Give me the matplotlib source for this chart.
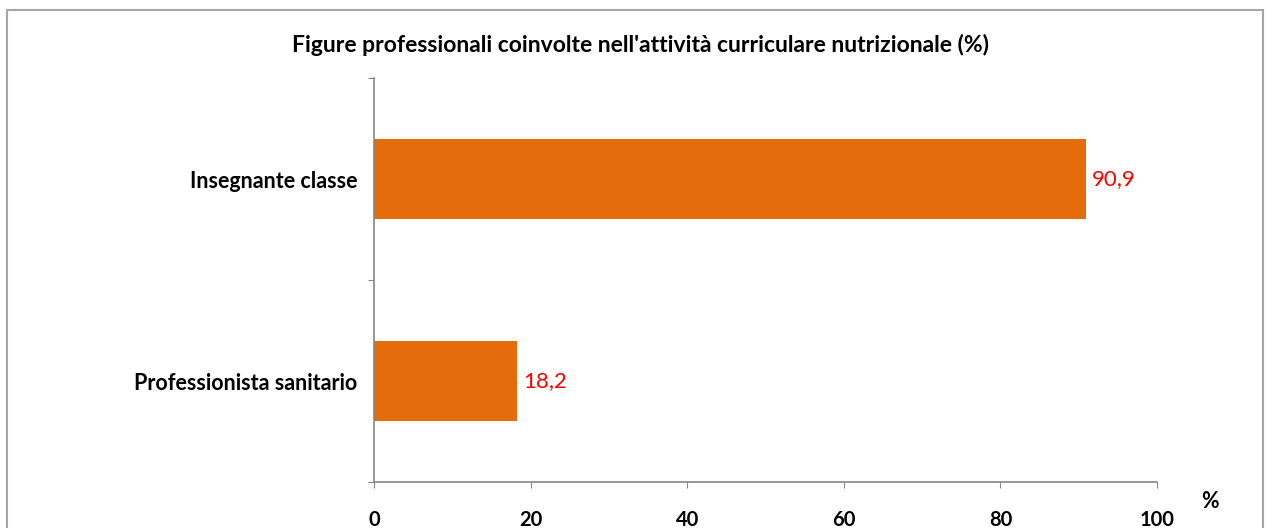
import matplotlib
matplotlib.use("Agg")
import matplotlib.pyplot as plt
from matplotlib.patches import Rectangle

categories = ["Professionista sanitario", "Insegnante classe"]
values = [18.2, 90.9]
value_labels = ["18,2", "90,9"]
xticks = [0, 20, 40, 60, 80, 100]
title = "Figure professionali coinvolte nell'attività curriculare nutrizionale (%)"

plt.rcParams['font.family'] = ['Lato', 'DejaVu Sans']

fig = plt.figure(figsize=(12.7, 5.28), dpi=100)
fig.patches.append(Rectangle((7/1270, -0.1), (1263-7)/1270, 1.1 - 10/528,
                             transform=fig.transFigure, fill=False,
                             edgecolor='#a6a6a6', linewidth=1.5))
ax = fig.add_axes([374/1270, 1 - 482/528, (1157-374)/1270, (482-78)/528])

pos = list(range(len(categories)))
ax.barh(pos, values, height=0.4, color='#E46C0A')
for p, v, lab in zip(pos, values, value_labels):
    ax.text(v + 0.8, p, lab, va='center', ha='left', color='#ff0000', fontsize=16)

ax.set_xlim(0, 100)
ax.set_ylim(-0.5, 1.5)
ax.set_xticks(xticks)
ax.set_xticklabels([str(t) for t in xticks], fontweight='bold', fontsize=14.5)
ax.set_yticks([-0.5, 0.5, 1.5])
ax.set_yticklabels([])
ax.set_yticks(pos, minor=True)
ax.set_yticklabels(categories, minor=True, fontweight='bold', fontsize=15.5)
ax.tick_params(axis='y', which='minor', length=0, pad=12)
ax.tick_params(axis='y', which='major', length=4.5, color='#868686')
ax.tick_params(axis='x', length=4.5, color='#868686', pad=16)
for s in ['top', 'right']:
    ax.spines[s].set_visible(False)
for s in ['left', 'bottom']:
    ax.spines[s].set_color('#868686')
    ax.spines[s].set_linewidth(1.2)

fig.text(641/1270, 1 - 45/528, title, ha='center', va='center',
         fontweight='bold', fontsize=16.5)
fig.text(1210/1270, 1 - 501/528, "%", ha='center', va='center',
         fontweight='bold', fontsize=15.5)

fig.savefig("out.png", dpi=100)
